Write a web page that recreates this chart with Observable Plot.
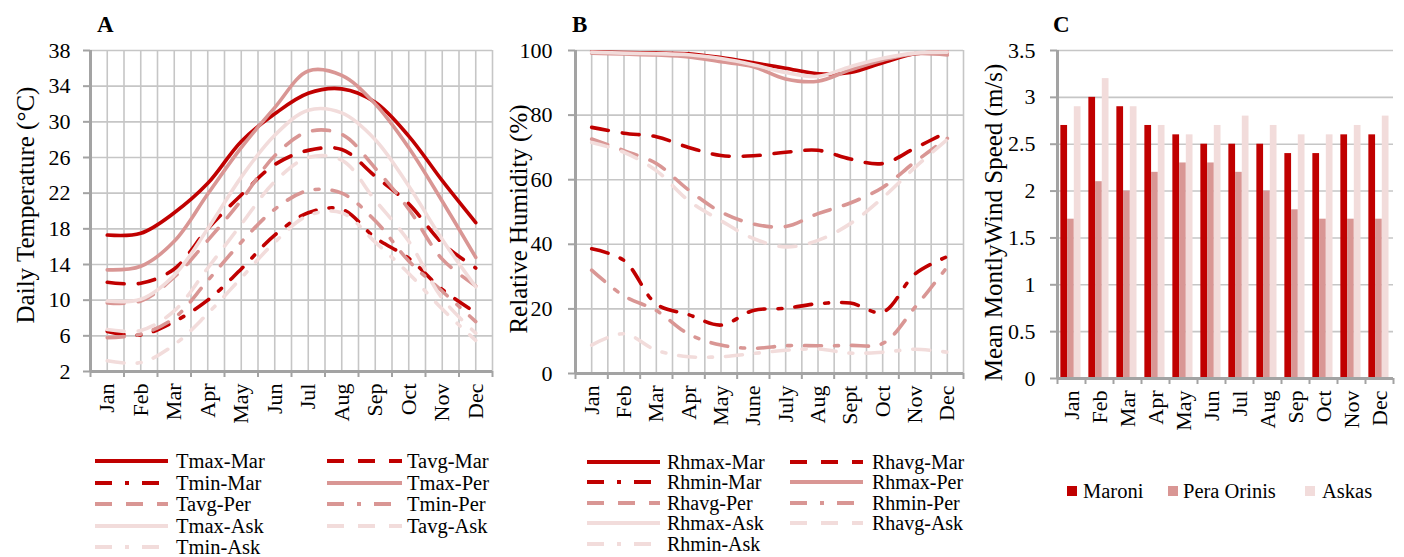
<!DOCTYPE html>
<html>
<head>
<meta charset="utf-8">
<script src="https://cdn.jsdelivr.net/npm/d3@7"></script>
<script src="https://cdn.jsdelivr.net/npm/@observablehq/plot@0.6"></script>
<style>
  html, body { margin: 0; padding: 0; background: #fff; }
  #root { position: relative; width: 1404px; height: 557px; overflow: hidden; background: #fff;
          font-family: "Liberation Serif", "Times New Roman", serif; color: #000; }
  .panel { position: absolute; top: 0; }
  .letter { position: absolute; font-weight: bold; font-size: 23px; line-height: 23px;
            font-family: "Liberation Serif", "Times New Roman", serif; }
  .item { position: absolute; display: flex; align-items: center; white-space: nowrap;
          transform: translateY(-50%); font-size: 20.5px; line-height: 16px;
          font-family: "Liberation Serif", "Times New Roman", serif; }
  .item.small { font-size: 20px; }
  .item span { font-family: "Liberation Serif", "Times New Roman", serif; }
  .item svg { display: block; overflow: visible; }
  .sq { display: inline-block; width: 10px; height: 10px; }
</style>
</head>
<body>
<div id="root"></div>
<script>
// ---------- data ----------
const months = ["Jan","Feb","Mar","Apr","May","Jun","Jul","Aug","Sep","Oct","Nov","Dec"];
const monthsB = ["Jan","Feb","Mar","Apr","May","June","July","Aug","Sept","Oct","Nov","Dec"];
const tempTicks = [2, 6, 10, 14, 18, 22, 26, 30, 34, 38];
const humTicks = [0, 20, 40, 60, 80, 100];
const windTicks = [0, 0.5, 1, 1.5, 2, 2.5, 3, 3.5];

// Panel A: daily temperature (°C)
const tmaxMar = [17.3, 17.5, 19.8, 23.1, 27.8, 30.9, 33.2, 33.7, 32.2, 28.4, 23.4, 18.7];
const tavgMar = [12.0, 11.9, 13.5, 18.0, 21.8, 25.2, 26.8, 26.9, 23.9, 20.8, 16.4, 13.6];
const tminMar = [6.5, 6.1, 7.6, 10.0, 13.5, 17.3, 19.8, 20.2, 17.0, 14.7, 11.2, 8.6];
const tmaxPer = [13.4, 13.8, 16.6, 21.9, 27.1, 31.6, 35.7, 35.2, 32.0, 27.1, 21.1, 14.8];
const tavgPer = [9.7, 9.9, 12.6, 16.7, 21.2, 26.2, 28.9, 28.6, 24.8, 20.2, 14.6, 11.6];
const tminPer = [5.8, 6.2, 8.0, 12.2, 16.5, 20.2, 22.3, 22.0, 18.9, 14.4, 11.0, 7.6];
const tmaxAsk = [9.9, 10.1, 12.8, 18.0, 23.8, 28.5, 31.3, 31.0, 28.0, 22.8, 16.8, 11.5];
const tavgAsk = [6.7, 6.6, 8.8, 13.6, 18.5, 23.3, 26.0, 25.7, 21.2, 16.6, 10.2, 6.3];
const tminAsk = [3.2, 3.0, 5.0, 8.5, 12.5, 16.5, 19.5, 19.8, 16.5, 13.0, 9.0, 5.5];

// Panel B: relative humidity (%)
const rhmaxMar = [99.6, 99.4, 99.2, 99.0, 97.8, 96.2, 94.5, 92.8, 93.2, 96.2, 99.0, 99.5];
const rhavgMar = [76.2, 74.4, 73.3, 70.0, 67.5, 67.4, 68.5, 69.1, 66.4, 65.0, 69.8, 74.8];
const rhminMar = [38.6, 35.0, 21.5, 18.2, 15.0, 19.5, 20.2, 21.6, 21.8, 19.0, 30.8, 36.2];
const rhmaxPer = [99.2, 98.9, 98.6, 98.0, 96.5, 95.0, 91.2, 90.5, 94.0, 97.0, 99.0, 98.6];
const rhavgPer = [72.6, 69.0, 65.0, 56.8, 50.0, 46.3, 45.5, 49.5, 52.8, 57.6, 65.5, 72.8];
const rhminPer = [32.0, 24.0, 19.5, 12.2, 8.8, 7.8, 8.6, 8.6, 8.7, 9.3, 20.5, 33.0];
const rhmaxAsk = [99.5, 99.2, 99.0, 98.7, 97.5, 95.6, 93.2, 92.0, 95.0, 97.6, 99.2, 99.5];
const rhavgAsk = [71.5, 68.5, 62.8, 53.5, 47.3, 41.8, 39.2, 41.2, 46.4, 54.4, 63.8, 72.5];
const rhminAsk = [8.8, 12.3, 7.2, 5.2, 5.2, 6.2, 7.2, 7.6, 6.3, 6.6, 7.5, 6.6];

// Panel C: mean monthly wind speed (m/s)
const windMaroni = [2.7, 3.0, 2.9, 2.7, 2.6, 2.5, 2.5, 2.5, 2.4, 2.4, 2.6, 2.6];
const windPera   = [1.7, 2.1, 2.0, 2.2, 2.3, 2.3, 2.2, 2.0, 1.8, 1.7, 1.7, 1.7];
const windAskas  = [2.9, 3.2, 2.9, 2.7, 2.6, 2.7, 2.8, 2.7, 2.6, 2.6, 2.7, 2.8];

// ---------- styles ----------
const RED = "#c00000", PINK = "#d99694", LIGHT = "#f2dcdb";
const SOLID = null, DASH = "17,14", DASHDOT = "17,13,4,13";
const GRID = "#c6c6c6", AXIS = "#a3a3a3";
const FONT = '"Liberation Serif", "Times New Roman", serif';

const S = (name, values, color, dash) => ({name, values, color, dash});
const seriesA = [
  S("Tmax-Mar", tmaxMar, RED, SOLID), S("Tavg-Mar", tavgMar, RED, DASH),
  S("Tmin-Mar", tminMar, RED, DASHDOT), S("Tmax-Per", tmaxPer, PINK, SOLID),
  S("Tavg-Per", tavgPer, PINK, DASH), S("Tmin-Per", tminPer, PINK, DASHDOT),
  S("Tmax-Ask", tmaxAsk, LIGHT, SOLID), S("Tavg-Ask", tavgAsk, LIGHT, DASH),
  S("Tmin-Ask", tminAsk, LIGHT, DASHDOT)
];
const seriesB = [
  S("Rhmax-Mar", rhmaxMar, RED, SOLID), S("Rhavg-Mar", rhavgMar, RED, DASH),
  S("Rhmin-Mar", rhminMar, RED, DASHDOT), S("Rhmax-Per", rhmaxPer, PINK, SOLID),
  S("Rhavg-Per", rhavgPer, PINK, DASH), S("Rhmin-Per", rhminPer, PINK, DASHDOT),
  S("Rhmax-Ask", rhmaxAsk, LIGHT, SOLID), S("Rhavg-Ask", rhavgAsk, LIGHT, DASH),
  S("Rhmin-Ask", rhminAsk, LIGHT, DASHDOT)
];
const seriesC = [
  S("Maroni", windMaroni, RED), S("Pera Orinis", windPera, PINK), S("Askas", windAskas, LIGHT)
];

const root = document.getElementById("root");
const idx = d3.range(months.length);
const edges = d3.range(months.length + 1).map(i => i - 0.5);
const halfGrid = d3.range(2 * months.length + 1).map(i => i / 2 - 0.5);

function place(el, left) {
  el.classList.add("panel");
  el.style.left = left + "px";
  root.appendChild(el);
}

function commonAxes(ticks, labels, yMin, tickPadding) {
  return [
    Plot.ruleX([-0.5], {stroke: AXIS, strokeWidth: 3}),
    Plot.ruleY([yMin], {stroke: AXIS, strokeWidth: 3}),
    Plot.axisY({ticks, tickSize: 7, tickPadding, stroke: AXIS, strokeWidth: 2,
                tickFormat: d => String(d), label: null, fill: "#000", fontFamily: FONT, fontSize: 22}),
    Plot.axisX({ticks: edges, tickSize: 6, stroke: AXIS, strokeWidth: 2,
                tickFormat: () => "", label: null}),
    Plot.axisX({ticks: idx, tickSize: 0, tickPadding: 12, tickRotate: -90,
                tickFormat: i => labels[i], label: null, fill: "#000", fontFamily: FONT, fontSize: 22})
  ];
}

function yTitle(title, dx, dy) {
  return Plot.text([title], {text: d => d, frameAnchor: "left", textAnchor: "middle", rotate: -90,
    dx, dy, fontSize: 25, fontFamily: FONT, fill: "#000"});
}

function linePanel({series, ticks, domain, labels, title, titleDx, titleDy, width, mL, mR, mB, tickPadding}) {
  return Plot.plot({
    width, height: 440, marginLeft: mL, marginRight: mR, marginTop: 50, marginBottom: mB,
    style: {fontFamily: FONT, fontSize: "22px", background: "transparent", overflow: "visible", color: "#000"},
    x: {domain: [-0.5, 11.5]},
    y: {domain},
    marks: [
      Plot.ruleX(halfGrid, {stroke: GRID, strokeWidth: 1.6}),
      Plot.ruleY(ticks, {stroke: GRID, strokeWidth: 1.6}),
      ...series.map(s => Plot.line(s.values, {
        x: (d, i) => i, y: d => d, stroke: s.color, strokeWidth: 3.6,
        strokeDasharray: s.dash, curve: "catmull-rom"
      })),
      ...commonAxes(ticks, labels, domain[0], tickPadding),
      yTitle(title, titleDx, titleDy)
    ]
  });
}

// Panel A
place(linePanel({series: seriesA, ticks: tempTicks, domain: [2, 38], labels: months,
  title: "Daily Temperature (°C)", titleDx: -65, titleDy: -6,
  width: 500, mL: 90, mR: 8, mB: 69, tickPadding: 13}), 0);

// Panel B
place(linePanel({series: seriesB, ticks: humTicks, domain: [0, 100], labels: monthsB,
  title: "Relative Humidity (%)", titleDx: -57, titleDy: 7,
  width: 490, mL: 85, mR: 17, mB: 67, tickPadding: 16}), 490);

// Panel C
const BAR_OFF = 0.12, BAR_W = 0.24;
const plotC = Plot.plot({
  width: 429, height: 440, marginLeft: 82, marginRight: 11, marginTop: 50, marginBottom: 62,
  style: {fontFamily: FONT, fontSize: "22px", background: "transparent", overflow: "visible", color: "#000"},
  x: {domain: [-0.5, 11.5]},
  y: {domain: [0, 3.5]},
  marks: [
    Plot.ruleY(windTicks, {stroke: GRID, strokeWidth: 1.6}),
    ...seriesC.map((s, k) => Plot.rectY(s.values, {
      x1: (d, i) => i - 0.5 + BAR_OFF + k * BAR_W,
      x2: (d, i) => i - 0.5 + BAR_OFF + (k + 1) * BAR_W,
      y1: 0, y2: d => d, fill: s.color
    })),
    ...commonAxes(windTicks, months, 0, 15),
    yTitle("Mean MontlyWind Speed (m/s)", -64, 8)
  ]
});
place(plotC, 975);

// Panel letters
[["A", 97], ["B", 572], ["C", 1053]].forEach(([t, x]) => {
  const d = document.createElement("div");
  d.className = "letter"; d.textContent = t;
  d.style.left = x + "px"; d.style.top = "13px";
  root.appendChild(d);
});

// Line legends
function lineLegend(series, cols, rows, cls) {
  series.forEach((s, i) => {
    const [x1, x2, tx] = cols[i % 2];
    const y = rows[Math.floor(i / 2)];
    const item = document.createElement("div");
    item.className = "item" + (cls ? " " + cls : "");
    item.style.left = x1 + "px"; item.style.top = y + "px";
    const w = x2 - x1;
    item.innerHTML = `<svg width="${w}" height="6"><line x1="0" x2="${w}" y1="3" y2="3" stroke="${s.color}" stroke-width="4" ${s.dash ? `stroke-dasharray="${s.dash}"` : ""}/></svg><span style="margin-left:${tx - x2}px">${s.name}</span>`;
    root.appendChild(item);
  });
}
lineLegend(seriesA, [[95, 168, 176], [327, 402, 407]], [461, 482.5, 504, 525.5, 547]);
lineLegend(seriesB, [[587, 660, 667], [790, 863, 872]], [461.5, 482, 502.5, 523, 543.5], "small");

// Bar legend
[[1067, 1083], [1168, 1183], [1305, 1322]].forEach(([sx, tx], k) => {
  const item = document.createElement("div");
  item.className = "item";
  item.style.left = sx + "px"; item.style.top = "491px";
  item.innerHTML = `<span class="sq" style="background:${seriesC[k].color}"></span><span style="margin-left:${tx - sx - 10}px">${seriesC[k].name}</span>`;
  root.appendChild(item);
});
</script>
</body>
</html>
